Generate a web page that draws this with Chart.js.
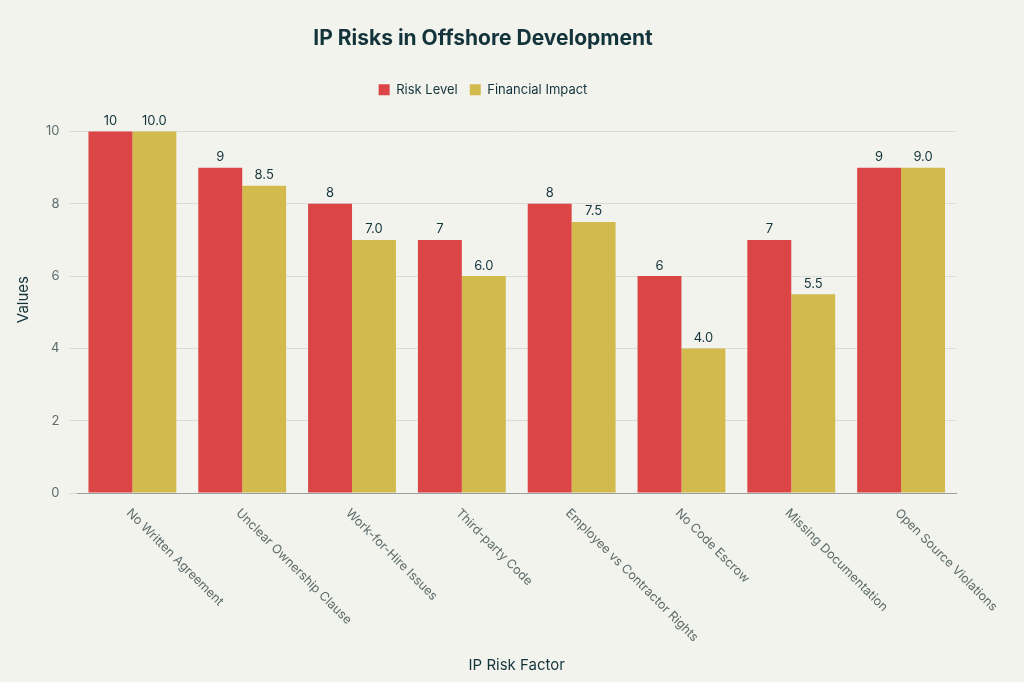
<!DOCTYPE html>
<html>
<head>
<meta charset="utf-8">
<script src="https://cdn.jsdelivr.net/npm/chart.js@4/dist/chart.umd.min.js"></script>
<style>
  html, body { margin: 0; padding: 0; background: #f3f3ee; }
  #wrap { width: 1024px; height: 682px; }
</style>
</head>
<body>
<div id="wrap"><canvas id="chart"></canvas></div>
<script>
const categories = ['No Written Agreement', 'Unclear Ownership Clause', 'Work-for-Hire Issues', 'Third-party Code',
    'Employee vs Contractor Rights', 'No Code Escrow', 'Missing Documentation', 'Open Source Violations'];
const riskLevel = [10, 9, 8, 7, 8, 6, 7, 9];
const financialImpact = [10, 8.5, 7, 6, 7.5, 4, 5.5, 9];
const yTicks = [0, 2, 4, 6, 8, 10];

const textColor = '#13343b';
const font = 'Inter, "Noto Sans", sans-serif';

// value labels above bars
const barLabels = {
    id: 'barLabels',
    afterDatasetsDraw(chart) {
        const ctx = chart.ctx;
        ctx.save();
        ctx.font = '13px ' + font;
        ctx.fillStyle = textColor;
        ctx.textAlign = 'center';
        ctx.textBaseline = 'bottom';
        chart.data.datasets.forEach((ds, i) => {
            chart.getDatasetMeta(i).data.forEach((bar, j) => {
                const v = ds.data[j];
                const txt = i === 0 ? String(v) : v.toFixed(1);
                ctx.fillText(txt, bar.x, bar.y - 4);
            });
        });
        ctx.restore();
    }
};

// rotated category labels, starting at the tick and going down-right
const xLabels = {
    id: 'xLabels',
    afterDraw(chart) {
        const ctx = chart.ctx;
        const xs = chart.scales.x;
        const bottom = chart.chartArea.bottom;
        ctx.save();
        ctx.font = '12.5px ' + font;
        ctx.fillStyle = '#5d6b6b';
        ctx.textAlign = 'left';
        ctx.textBaseline = 'middle';
        categories.forEach((c, i) => {
            const x = xs.getPixelForValue(i);
            ctx.save();
            ctx.translate(x - 4, bottom + 18);
            ctx.rotate(Math.PI / 4);
            ctx.fillText(c, 0, 0);
            ctx.restore();
        });
        ctx.restore();
    }
};

new Chart(document.getElementById('chart'), {
    type: 'bar',
    data: {
        labels: categories,
        datasets: [
            { label: 'Risk Level', data: riskLevel, backgroundColor: '#db4545' },
            { label: 'Financial Impact', data: financialImpact, backgroundColor: '#d2ba4c' }
        ]
    },
    options: {
        responsive: true,
        maintainAspectRatio: false,
        animation: false,
        layout: { padding: { left: 10, right: 68, top: 20, bottom: 8 } },
        datasets: { bar: { categoryPercentage: 0.8, barPercentage: 1.0 } },
        plugins: {
            title: {
                display: true,
                text: 'IP Risks in Offshore Development',
                color: textColor,
                font: { family: font, size: 21, weight: 'bold' },
                padding: { top: 6, bottom: 20 }
            },
            legend: {
                position: 'top',
                labels: {
                    color: textColor,
                    font: { family: font, size: 13 },
                    boxWidth: 11, boxHeight: 11,
                    padding: 12
                }
            },
            tooltip: { enabled: false }
        },
        scales: {
            x: {
                grid: { display: false },
                border: { color: '#9aa0a0' },
                ticks: { display: false },
                title: {
                    display: true, text: 'IP Risk Factor', color: textColor,
                    font: { family: font, size: 15 },
                    padding: { top: 155, bottom: 0 }
                }
            },
            y: {
                min: 0, max: 10.7,
                afterBuildTicks: (axis) => { axis.ticks = yTicks.map(v => ({ value: v })); },
                grid: { color: '#dcdcd6' },
                border: { display: false },
                ticks: { color: '#5d6b6b', font: { family: font, size: 13 }, padding: 10 },
                title: {
                    display: true, text: 'Values', color: textColor,
                    font: { family: font, size: 15 }
                }
            }
        }
    },
    plugins: [barLabels, xLabels]
});
</script>
</body>
</html>
